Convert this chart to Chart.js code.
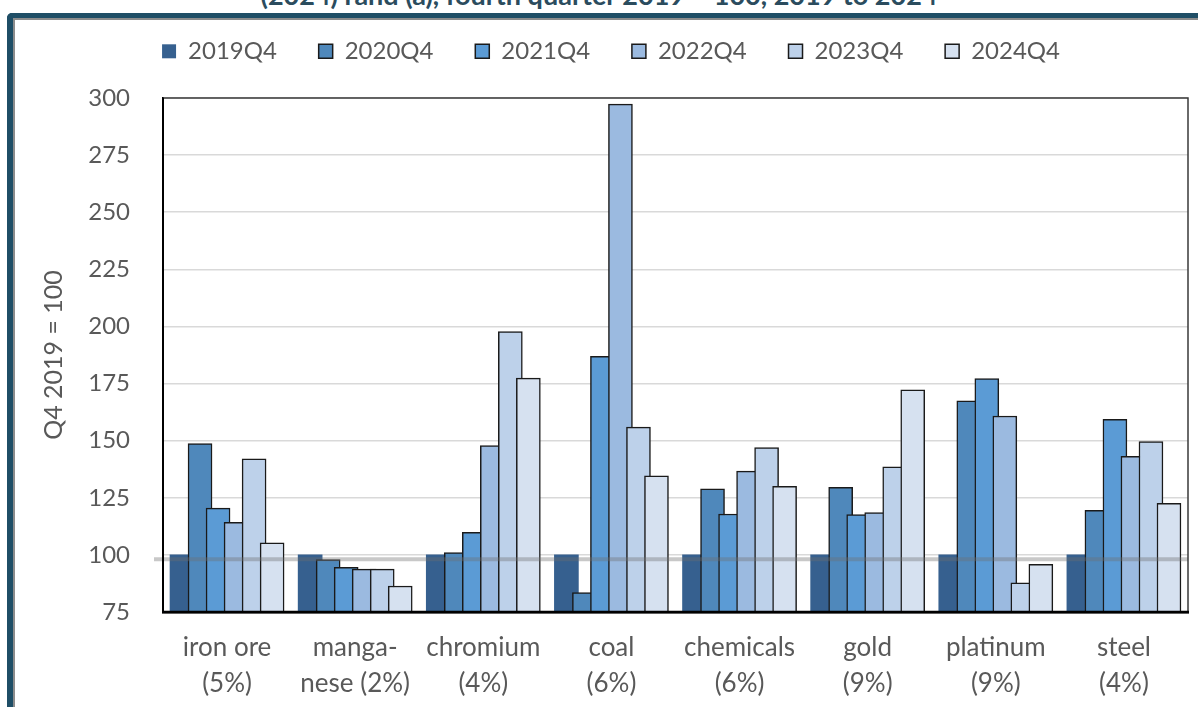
<!DOCTYPE html>
<html>
<head>
<meta charset="utf-8">
<script src="https://cdn.jsdelivr.net/npm/chart.js@4.4.1/dist/chart.umd.min.js"></script>
<style>
  html, body { margin: 0; padding: 0; background: #ffffff; }
  #wrap { position: relative; width: 1198px; height: 707px; overflow: hidden; background: #ffffff; }
  #frame {
    position: absolute; left: 7px; top: 13px; width: 1400px; height: 900px;
    border-left: 6px solid #1f4e66; border-top: 5px solid #1f4e66;
    border-top-left-radius: 5px;
  }
  #frame-inner {
    position: absolute; left: 0; top: 0; right: 0; bottom: 0;
    border-left: 2px solid #8c8c8c; border-top: 2px solid #8c8c8c;
  }
  #title {
    position: absolute; left: 0; top: -19.5px; width: 1198px; text-align: center;
    font-family: Lato, "Open Sans", sans-serif; font-weight: bold; font-size: 27px; line-height: 27px;
    color: #2b4c5e; white-space: nowrap;
  }
  #chart { position: absolute; left: 0; top: 0; }
</style>
</head>
<body>
<div id="wrap">
  <div id="frame"><div id="frame-inner"></div></div>
  <div id="title">(2024) rand (a), fourth quarter 2019 = 100, 2019 to 2024</div>
  <canvas id="chart" width="1198" height="707"></canvas>
</div>
<script>
// Categories (with their weights) shown along the x axis
const categories = [
  ['iron ore', '(5%)'],
  ['manga-', 'nese (2%)'],
  ['chromium', '(4%)'],
  ['coal', '(6%)'],
  ['chemicals', '(6%)'],
  ['gold', '(9%)'],
  ['platinum', '(9%)'],
  ['steel', '(4%)']
];

const seriesLabels = ['2019Q4', '2020Q4', '2021Q4', '2022Q4', '2023Q4', '2024Q4'];

// Index values, Q4 2019 = 100
const q2019 = [100, 100, 100, 100, 100, 100, 100, 100];
const q2020 = [148.7, 98.0, 101.0, 83.5, 128.9, 129.6, 167.4, 119.5];
const q2021 = [120.5, 94.6, 109.9, 186.9, 117.9, 117.6, 177.2, 159.3];
const q2022 = [114.3, 93.8, 147.8, 297.3, 136.7, 118.5, 160.8, 143.1];
const q2023 = [142.1, 93.8, 197.8, 155.9, 147.0, 138.5, 87.8, 149.6];
const q2024 = [105.3, 86.4, 177.4, 134.6, 130.0, 172.3, 95.9, 122.6];

const yTicks = [75, 100, 125, 150, 175, 200, 225, 250, 275, 300];

// Horizontal reference band drawn across the plot just under 100
const referenceLevel = 98.1;

const seriesValues = [q2019, q2020, q2021, q2022, q2023, q2024];
const fills = ['#36608f', '#4f88bb', '#5b9bd5', '#9bbae0', '#bdd1ea', '#d6e1f0'];

// Bars within a category overlap: each sits a fixed step to the right of the previous one
const barStep = 18 / 128;
const barOffset = k => (k - (seriesLabels.length - 1) / 2) * barStep;

const datasets = seriesLabels.map((label, k) => ({
  label,
  data: seriesValues[k].map((v, i) => ({ x: i + barOffset(k), y: v })),
  backgroundColor: fills[k],
  borderColor: '#1a1a1a',
  borderWidth: k === 0 ? 0 : 1.5,
  barThickness: 24,
  grouped: false,
  order: seriesLabels.length - k
}));

const textColor = '#595959';
const fontFamily = 'Lato, "Open Sans", sans-serif';

const legendHeightPlugin = {
  id: 'legendHeight',
  beforeInit(chart) {
    const fit = chart.legend.fit;
    chart.legend.fit = function () {
      fit.call(this);
      this.height = 100.5;
    };
  }
};

const frameAndBandPlugin = {
  id: 'frameAndBand',
  afterDatasetsDraw(chart) {
    const { ctx, chartArea, scales } = chart;
    const y = scales.y.getPixelForValue(referenceLevel);
    ctx.save();
    ctx.strokeStyle = 'rgba(110,110,110,0.38)';
    ctx.lineWidth = 4;
    ctx.beginPath();
    ctx.moveTo(chartArea.left - 9, y);
    ctx.lineTo(chartArea.right, y);
    ctx.stroke();
    ctx.restore();
  },
  afterDraw(chart) {
    const { ctx, chartArea } = chart;
    ctx.save();
    // thin frame on top and right
    ctx.strokeStyle = '#3a3a3a';
    ctx.lineWidth = 1.5;
    ctx.beginPath();
    ctx.moveTo(chartArea.left, chartArea.top);
    ctx.lineTo(chartArea.right, chartArea.top);
    ctx.lineTo(chartArea.right, chartArea.bottom);
    ctx.stroke();
    // axis lines kept above the bars
    ctx.strokeStyle = '#000000';
    ctx.lineWidth = 2;
    ctx.beginPath();
    ctx.moveTo(chartArea.left, chartArea.top);
    ctx.lineTo(chartArea.left, chartArea.bottom);
    ctx.stroke();
    ctx.lineWidth = 2.5;
    ctx.beginPath();
    ctx.moveTo(chartArea.left - 1, chartArea.bottom);
    ctx.lineTo(chartArea.right + 1, chartArea.bottom);
    ctx.stroke();
    ctx.restore();
  }
};

new Chart(document.getElementById('chart'), {
  type: 'bar',
  data: { datasets },
  plugins: [legendHeightPlugin, frameAndBandPlugin],
  options: {
    responsive: false,
    animation: false,
    layout: { padding: { left: 34, right: 10, top: -2.5, bottom: -13 } },
    plugins: {
      tooltip: { enabled: false },
      legend: {
        position: 'top',
        align: 'center',
        labels: {
          boxWidth: 14,
          boxHeight: 14,
          padding: 41.8,
          color: textColor,
          font: { family: fontFamily, size: 24 },
          sort: (a, b) => a.datasetIndex - b.datasetIndex
        }
      }
    },
    scales: {
      x: {
        type: 'linear',
        min: -0.5,
        max: categories.length - 0.5,
        offset: false,
        afterBuildTicks: scale => { scale.ticks = categories.map((_, i) => ({ value: i })); },
        grid: { display: false, drawTicks: false },
        border: { display: true, color: '#000000', width: 2.5 },
        ticks: {
          autoSkip: false,
          maxRotation: 0,
          padding: 18,
          color: textColor,
          font: { family: fontFamily, size: 26, lineHeight: 36 / 26 },
          callback: v => categories[v]
        }
      },
      y: {
        min: 75,
        max: 300,
        afterBuildTicks: scale => { scale.ticks = yTicks.map(v => ({ value: v })); },
        afterFit: scale => { scale.width = 129; },
        grid: { color: '#d9d9d9', lineWidth: 1.5, drawTicks: false },
        border: { display: true, color: '#000000', width: 2 },
        ticks: {
          padding: 33,
          color: textColor,
          font: { family: fontFamily, size: 24 }
        },
        title: {
          display: true,
          text: 'Q4 2019 = 100',
          color: textColor,
          font: { family: fontFamily, size: 25 },
          padding: { top: 5, bottom: 0 }
        }
      }
    }
  }
});
</script>
</body>
</html>
